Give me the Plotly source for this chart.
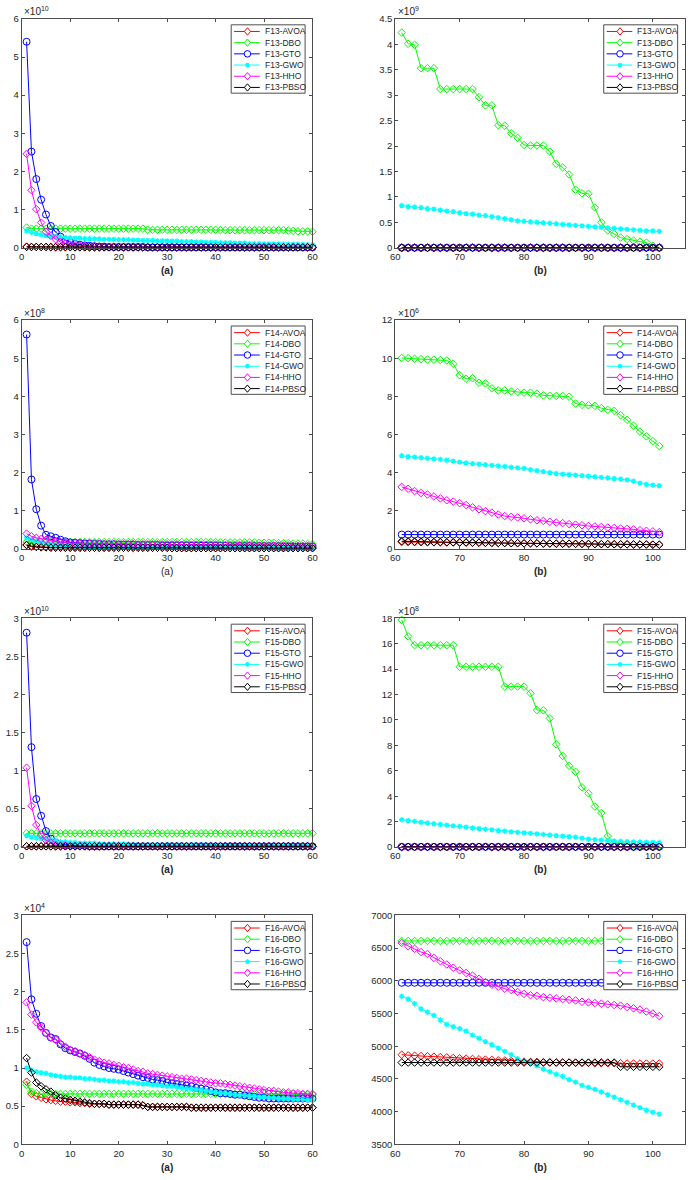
import plotly.graph_objects as go

# ---------------- data ----------------
ITER_A = list(range(1, 61))
ITER_B = list(range(61, 102))
ALGOS = ["AVOA", "DBO", "GTO", "GWO", "HHO", "PBSO"]

# F13 (a)  x1e10
f13a_avoa = [0.03,0.02,0.02,0.02,0.02,0.01,0.01,0.01,0.01,0.01,
             0.01,0.01,0.01,0.01,0.01,0.01,0.01,0.01,0.01,0.01,
             0.01,0.01,0.01,0.01,0.01,0.01,0.01,0.01,0.01,0.01,
             0.01,0.01,0.01,0.01,0.01,0.01,0.01,0.01,0.01,0.01,
             0.01,0.01,0.01,0.01,0.01,0.01,0.01,0.01,0.01,0.01,
             0.01,0.01,0.01,0.01,0.01,0.01,0.01,0.01,0.01,0.01]
f13a_dbo = [0.53,0.50,0.50,0.50,0.50,0.50,0.50,0.50,0.50,0.50,
            0.50,0.50,0.50,0.50,0.50,0.50,0.50,0.50,0.50,0.50,
            0.50,0.50,0.50,0.50,0.50,0.47,0.47,0.47,0.47,0.47,
            0.47,0.47,0.47,0.47,0.47,0.47,0.47,0.47,0.47,0.47,
            0.46,0.46,0.46,0.46,0.46,0.46,0.46,0.46,0.46,0.46,
            0.46,0.46,0.46,0.46,0.45,0.44,0.43,0.43,0.43,0.42]
f13a_gto = [5.40,2.52,1.80,1.26,0.87,0.57,0.41,0.29,0.20,0.14,
            0.10,0.08,0.06,0.05,0.04,0.03,0.03,0.02,0.02,0.02,
            0.02,0.02,0.02,0.02,0.02,0.01,0.01,0.01,0.01,0.01,
            0.01,0.01,0.01,0.01,0.01,0.01,0.01,0.01,0.01,0.01,
            0.01,0.01,0.01,0.01,0.01,0.01,0.01,0.01,0.01,0.01,
            0.01,0.01,0.01,0.01,0.01,0.01,0.01,0.01,0.01,0.01]
f13a_gwo = [0.44,0.40,0.37,0.34,0.32,0.30,0.29,0.28,0.27,0.26,
            0.25,0.25,0.24,0.24,0.23,0.23,0.22,0.22,0.22,0.21,
            0.21,0.21,0.20,0.20,0.19,0.19,0.19,0.18,0.18,0.18,
            0.17,0.17,0.16,0.16,0.16,0.15,0.15,0.14,0.14,0.14,
            0.13,0.13,0.13,0.12,0.12,0.12,0.11,0.11,0.11,0.10,
            0.10,0.10,0.10,0.09,0.09,0.09,0.09,0.08,0.08,0.08]
f13a_hho = [2.46,1.51,1.01,0.66,0.42,0.31,0.22,0.15,0.11,0.08,
            0.06,0.05,0.04,0.03,0.03,0.02,0.02,0.02,0.02,0.02,
            0.01,0.01,0.01,0.01,0.01,0.01,0.01,0.01,0.01,0.01,
            0.01,0.01,0.01,0.01,0.01,0.01,0.01,0.01,0.01,0.01,
            0.01,0.01,0.01,0.01,0.01,0.01,0.01,0.01,0.01,0.01,
            0.01,0.01,0.01,0.01,0.01,0.01,0.01,0.01,0.01,0.01]
f13a_pbso = [0.02,0.02,0.02,0.02,0.02,0.02,0.02,0.02,0.02,0.02,
             0.01,0.01,0.01,0.01,0.01,0.01,0.01,0.01,0.01,0.01,
             0.01,0.01,0.01,0.01,0.01,0.01,0.01,0.01,0.01,0.01,
             0.01,0.01,0.01,0.01,0.01,0.01,0.01,0.01,0.01,0.01,
             0.01,0.01,0.01,0.01,0.01,0.01,0.01,0.01,0.01,0.01,
             0.01,0.01,0.01,0.01,0.01,0.01,0.01,0.01,0.01,0.01]

# F13 (b)  x1e9
f13b_avoa = [0.00,0.00,0.00,0.00,0.00,0.00,0.00,0.00,0.00,0.00,
             0.00,0.00,0.00,0.00,0.00,0.00,0.00,0.00,0.00,0.00,
             0.00,0.00,0.00,0.00,0.00,0.00,0.00,0.00,0.00,0.00,
             0.00,0.00,0.00,0.00,0.00,0.00,0.00,0.00,0.00,0.00,0.00]
f13b_dbo = [4.23,4.01,3.99,3.53,3.53,3.53,3.12,3.12,3.12,3.12,
            3.12,3.12,2.96,2.80,2.80,2.41,2.40,2.25,2.16,2.02,
            2.01,2.01,2.01,1.89,1.65,1.58,1.44,1.14,1.07,1.06,
            0.79,0.50,0.34,0.27,0.20,0.17,0.14,0.12,0.10,0.04,0.01]
f13b_gto = [0.00,0.00,0.00,0.00,0.00,0.00,0.00,0.00,0.00,0.00,
            0.00,0.00,0.00,0.00,0.00,0.00,0.00,0.00,0.00,0.00,
            0.00,0.00,0.00,0.00,0.00,0.00,0.00,0.00,0.00,0.00,
            0.00,0.00,0.00,0.00,0.00,0.00,0.00,0.00,0.00,0.00,0.00]
f13b_gwo = [0.83,0.81,0.80,0.79,0.77,0.76,0.74,0.72,0.71,0.69,
            0.67,0.66,0.64,0.63,0.61,0.59,0.57,0.55,0.53,0.52,
            0.51,0.50,0.49,0.48,0.47,0.46,0.45,0.44,0.43,0.42,
            0.41,0.40,0.39,0.38,0.37,0.36,0.35,0.34,0.33,0.33,0.32]
f13b_hho = [0.00,0.00,0.00,0.00,0.00,0.00,0.00,0.00,0.00,0.00,
            0.00,0.00,0.00,0.00,0.00,0.00,0.00,0.00,0.00,0.00,
            0.00,0.00,0.00,0.00,0.00,0.00,0.00,0.00,0.00,0.00,
            0.00,0.00,0.00,0.00,0.00,0.00,0.00,0.00,0.00,0.00,0.00]
f13b_pbso = [0.00,0.00,0.00,0.00,0.00,0.00,0.00,0.00,0.00,0.00,
             0.00,0.00,0.00,0.00,0.00,0.00,0.00,0.00,0.00,0.00,
             0.00,0.00,0.00,0.00,0.00,0.00,0.00,0.00,0.00,0.00,
             0.00,0.00,0.00,0.00,0.00,0.00,0.00,0.00,0.00,0.00,0.00]

# F14 (a)  x1e8
f14a_avoa = [0.11,0.08,0.06,0.05,0.04,0.04,0.04,0.04,0.03,0.03,
             0.03,0.03,0.03,0.03,0.03,0.03,0.03,0.03,0.03,0.03,
             0.03,0.03,0.03,0.03,0.03,0.03,0.03,0.03,0.03,0.03,
             0.02,0.02,0.02,0.02,0.02,0.02,0.02,0.02,0.02,0.02,
             0.02,0.02,0.02,0.02,0.02,0.02,0.02,0.02,0.02,0.02,
             0.02,0.02,0.02,0.02,0.02,0.02,0.02,0.02,0.02,0.02]
f14a_dbo = [0.18,0.18,0.18,0.18,0.18,0.18,0.18,0.18,0.18,0.18,
            0.18,0.18,0.18,0.18,0.18,0.18,0.18,0.18,0.18,0.18,
            0.18,0.18,0.18,0.18,0.18,0.18,0.18,0.18,0.18,0.18,
            0.18,0.18,0.18,0.18,0.18,0.18,0.18,0.18,0.18,0.18,
            0.17,0.17,0.17,0.17,0.17,0.17,0.17,0.17,0.16,0.16,
            0.16,0.16,0.15,0.15,0.15,0.14,0.14,0.14,0.13,0.13]
f14a_gto = [5.62,1.82,1.04,0.61,0.37,0.33,0.29,0.24,0.20,0.17,
            0.16,0.15,0.14,0.14,0.13,0.13,0.12,0.12,0.12,0.11,
            0.11,0.11,0.11,0.10,0.10,0.10,0.10,0.10,0.09,0.09,
            0.09,0.09,0.09,0.09,0.08,0.08,0.08,0.08,0.08,0.08,
            0.08,0.08,0.07,0.07,0.07,0.07,0.07,0.07,0.07,0.07,
            0.07,0.07,0.07,0.06,0.06,0.06,0.06,0.06,0.06,0.06]
f14a_gwo = [0.29,0.24,0.20,0.17,0.14,0.12,0.10,0.09,0.08,0.08,
            0.07,0.07,0.07,0.06,0.06,0.06,0.06,0.06,0.05,0.05,
            0.05,0.05,0.05,0.05,0.05,0.05,0.04,0.04,0.04,0.04,
            0.04,0.04,0.04,0.04,0.04,0.04,0.04,0.04,0.04,0.04,
            0.04,0.03,0.03,0.03,0.03,0.03,0.03,0.03,0.03,0.03,
            0.03,0.03,0.03,0.03,0.03,0.03,0.03,0.03,0.03,0.03]
f14a_hho = [0.40,0.33,0.29,0.26,0.24,0.22,0.20,0.18,0.16,0.15,
            0.15,0.14,0.14,0.14,0.14,0.13,0.13,0.13,0.13,0.13,
            0.13,0.13,0.13,0.12,0.12,0.12,0.12,0.12,0.12,0.12,
            0.12,0.12,0.11,0.11,0.11,0.11,0.11,0.11,0.11,0.11,
            0.10,0.10,0.10,0.10,0.10,0.10,0.10,0.10,0.09,0.09,
            0.09,0.09,0.09,0.09,0.09,0.08,0.08,0.08,0.08,0.08]
f14a_pbso = [0.10,0.06,0.05,0.04,0.04,0.03,0.03,0.03,0.03,0.03,
             0.03,0.03,0.03,0.03,0.03,0.03,0.03,0.03,0.03,0.03,
             0.03,0.03,0.03,0.03,0.03,0.03,0.03,0.03,0.03,0.03,
             0.02,0.02,0.02,0.02,0.02,0.02,0.02,0.02,0.02,0.02,
             0.02,0.02,0.02,0.02,0.02,0.02,0.02,0.02,0.02,0.02,
             0.02,0.02,0.02,0.02,0.02,0.02,0.02,0.02,0.02,0.02]

# F14 (b)  x1e6
f14b_avoa = [0.36,0.36,0.35,0.35,0.34,0.34,0.34,0.33,0.33,0.33,
             0.32,0.32,0.32,0.31,0.31,0.31,0.30,0.30,0.30,0.29,
             0.29,0.29,0.28,0.28,0.28,0.27,0.27,0.27,0.26,0.26,
             0.26,0.25,0.25,0.25,0.24,0.24,0.24,0.23,0.23,0.23,0.22]
f14b_dbo = [10.01,10.00,9.97,9.95,9.93,9.92,9.90,9.88,9.71,9.11,
            8.92,8.95,8.71,8.68,8.42,8.31,8.31,8.26,8.22,8.19,
            8.19,8.14,8.05,8.03,8.02,8.02,7.98,7.62,7.55,7.53,
            7.50,7.38,7.29,7.24,7.01,6.77,6.46,6.15,5.90,5.65,5.39]
f14b_gto = [0.75,0.75,0.75,0.75,0.75,0.75,0.75,0.75,0.75,0.75,
            0.75,0.75,0.75,0.75,0.75,0.75,0.75,0.75,0.75,0.75,
            0.75,0.75,0.75,0.75,0.75,0.75,0.75,0.75,0.75,0.75,
            0.75,0.75,0.75,0.75,0.75,0.75,0.75,0.75,0.75,0.75,0.75]
f14b_gwo = [4.88,4.84,4.81,4.78,4.75,4.72,4.69,4.65,4.60,4.55,
            4.50,4.47,4.44,4.41,4.38,4.35,4.32,4.28,4.25,4.22,
            4.15,4.10,4.05,4.00,3.95,3.92,3.90,3.87,3.84,3.81,
            3.78,3.75,3.72,3.69,3.66,3.62,3.55,3.45,3.38,3.34,3.31]
f14b_hho = [3.25,3.15,3.03,2.93,2.85,2.75,2.65,2.55,2.48,2.40,
            2.30,2.18,2.08,1.98,1.90,1.80,1.72,1.68,1.65,1.60,
            1.55,1.50,1.47,1.42,1.38,1.35,1.30,1.27,1.24,1.20,
            1.18,1.15,1.12,1.10,1.07,1.05,1.02,0.98,0.95,0.92,0.88]
f14b_pbso = [0.40,0.39,0.38,0.38,0.37,0.36,0.36,0.35,0.35,0.34,
             0.34,0.33,0.33,0.32,0.32,0.31,0.31,0.30,0.30,0.29,
             0.29,0.29,0.28,0.28,0.27,0.27,0.27,0.26,0.26,0.26,
             0.25,0.25,0.25,0.24,0.24,0.24,0.23,0.23,0.23,0.22,0.22]

# F15 (a)  x1e10
f15a_avoa = [0.01,0.01,0.01,0.01,0.01,0.01,0.01,0.01,0.01,0.01,
             0.01,0.01,0.01,0.01,0.01,0.01,0.01,0.01,0.01,0.01,
             0.01,0.01,0.01,0.01,0.01,0.01,0.01,0.01,0.01,0.01,
             0.01,0.01,0.01,0.01,0.01,0.01,0.01,0.01,0.01,0.01,
             0.01,0.01,0.01,0.01,0.01,0.01,0.01,0.01,0.01,0.01,
             0.01,0.01,0.01,0.01,0.01,0.01,0.01,0.01,0.01,0.01]
f15a_dbo = [0.18,0.18,0.18,0.18,0.18,0.18,0.18,0.18,0.18,0.18,
            0.18,0.18,0.18,0.18,0.18,0.18,0.18,0.18,0.18,0.18,
            0.18,0.18,0.18,0.18,0.18,0.18,0.18,0.18,0.18,0.18,
            0.18,0.18,0.18,0.18,0.18,0.18,0.18,0.18,0.18,0.18,
            0.18,0.18,0.18,0.18,0.18,0.18,0.18,0.18,0.18,0.18,
            0.18,0.18,0.18,0.18,0.18,0.18,0.18,0.18,0.18,0.18]
f15a_gto = [2.81,1.31,0.63,0.41,0.21,0.11,0.06,0.04,0.03,0.02,
            0.02,0.02,0.02,0.01,0.01,0.01,0.01,0.01,0.01,0.01,
            0.01,0.01,0.01,0.01,0.01,0.01,0.01,0.01,0.01,0.01,
            0.01,0.01,0.01,0.01,0.01,0.01,0.01,0.01,0.01,0.01,
            0.01,0.01,0.01,0.01,0.01,0.01,0.01,0.01,0.01,0.01,
            0.01,0.01,0.01,0.01,0.01,0.01,0.01,0.01,0.01,0.01]
f15a_gwo = [0.15,0.13,0.12,0.11,0.10,0.09,0.08,0.07,0.07,0.06,
            0.06,0.05,0.05,0.05,0.05,0.04,0.04,0.04,0.04,0.04,
            0.04,0.04,0.03,0.03,0.03,0.03,0.03,0.03,0.03,0.03,
            0.03,0.03,0.03,0.03,0.03,0.03,0.03,0.03,0.03,0.02,
            0.02,0.02,0.02,0.02,0.02,0.02,0.02,0.02,0.02,0.02,
            0.02,0.02,0.02,0.02,0.02,0.02,0.02,0.02,0.02,0.02]
f15a_hho = [1.04,0.54,0.29,0.16,0.09,0.06,0.03,0.02,0.02,0.01,
            0.01,0.01,0.01,0.01,0.01,0.01,0.01,0.01,0.01,0.01,
            0.01,0.01,0.01,0.01,0.01,0.01,0.01,0.01,0.01,0.01,
            0.01,0.01,0.01,0.01,0.01,0.01,0.01,0.01,0.01,0.01,
            0.01,0.01,0.01,0.01,0.01,0.01,0.01,0.01,0.01,0.01,
            0.01,0.01,0.01,0.01,0.01,0.01,0.01,0.01,0.01,0.01]
f15a_pbso = [0.01,0.01,0.01,0.01,0.01,0.01,0.01,0.01,0.01,0.01,
             0.01,0.01,0.01,0.01,0.01,0.01,0.01,0.01,0.01,0.01,
             0.01,0.01,0.01,0.01,0.01,0.01,0.01,0.01,0.01,0.01,
             0.01,0.01,0.01,0.01,0.01,0.01,0.01,0.01,0.01,0.01,
             0.01,0.01,0.01,0.01,0.01,0.01,0.01,0.01,0.01,0.01,
             0.01,0.01,0.01,0.01,0.01,0.01,0.01,0.01,0.01,0.01]

# F15 (b)  x1e8
f15b_avoa = [0.02,0.02,0.02,0.02,0.02,0.02,0.02,0.02,0.02,0.02,
             0.02,0.02,0.02,0.02,0.02,0.02,0.02,0.02,0.02,0.02,
             0.02,0.02,0.02,0.02,0.02,0.02,0.02,0.02,0.02,0.02,
             0.02,0.02,0.02,0.02,0.02,0.02,0.02,0.02,0.02,0.02,0.02]
f15b_dbo = [17.87,16.57,15.88,15.88,15.88,15.88,15.88,15.88,15.88,14.18,
            14.18,14.18,14.18,14.18,14.18,14.18,12.62,12.62,12.62,12.62,
            12.10,10.78,10.76,10.13,8.08,7.17,6.39,5.92,4.70,4.23,
            3.19,2.68,0.86,0.34,0.26,0.22,0.15,0.12,0.10,0.10,0.10]
f15b_gto = [0.02,0.02,0.02,0.02,0.02,0.02,0.02,0.02,0.02,0.02,
            0.02,0.02,0.02,0.02,0.02,0.02,0.02,0.02,0.02,0.02,
            0.02,0.02,0.02,0.02,0.02,0.02,0.02,0.02,0.02,0.02,
            0.02,0.02,0.02,0.02,0.02,0.02,0.02,0.02,0.02,0.02,0.02]
f15b_gwo = [2.15,2.08,2.02,1.95,1.89,1.83,1.78,1.72,1.67,1.62,
            1.56,1.50,1.45,1.40,1.35,1.30,1.25,1.20,1.16,1.12,
            1.08,1.03,0.99,0.95,0.90,0.86,0.82,0.78,0.70,0.62,
            0.58,0.54,0.50,0.47,0.45,0.43,0.41,0.40,0.38,0.37,0.36]
f15b_hho = [0.02,0.02,0.02,0.02,0.02,0.02,0.02,0.02,0.02,0.02,
            0.02,0.02,0.02,0.02,0.02,0.02,0.02,0.02,0.02,0.02,
            0.02,0.02,0.02,0.02,0.02,0.02,0.02,0.02,0.02,0.02,
            0.02,0.02,0.02,0.02,0.02,0.02,0.02,0.02,0.02,0.02,0.02]
f15b_pbso = [0.02,0.02,0.02,0.02,0.02,0.02,0.02,0.02,0.02,0.02,
             0.02,0.02,0.02,0.02,0.02,0.02,0.02,0.02,0.02,0.02,
             0.02,0.02,0.02,0.02,0.02,0.02,0.02,0.02,0.02,0.02,
             0.02,0.02,0.02,0.02,0.02,0.02,0.02,0.02,0.02,0.02,0.02]

# F16 (a)  x1e4
f16a_avoa = [0.82,0.66,0.63,0.61,0.59,0.58,0.57,0.56,0.56,0.55,
             0.55,0.54,0.54,0.53,0.53,0.53,0.53,0.52,0.52,0.52,
             0.52,0.52,0.52,0.52,0.51,0.49,0.49,0.49,0.49,0.49,
             0.49,0.49,0.49,0.49,0.48,0.48,0.48,0.48,0.48,0.48,
             0.48,0.48,0.48,0.48,0.48,0.48,0.48,0.48,0.48,0.48,
             0.48,0.48,0.48,0.48,0.48,0.48,0.48,0.48,0.48,0.48]
f16a_dbo = [0.78,0.69,0.67,0.66,0.66,0.66,0.66,0.66,0.66,0.66,
            0.66,0.66,0.66,0.66,0.66,0.66,0.66,0.66,0.66,0.66,
            0.66,0.66,0.66,0.66,0.66,0.66,0.66,0.66,0.66,0.66,
            0.66,0.66,0.66,0.66,0.66,0.66,0.66,0.66,0.66,0.66,
            0.66,0.66,0.66,0.66,0.66,0.66,0.66,0.66,0.66,0.66,
            0.66,0.66,0.66,0.66,0.66,0.66,0.65,0.65,0.65,0.65]
f16a_gto = [2.65,1.90,1.71,1.55,1.46,1.40,1.38,1.31,1.26,1.23,
            1.21,1.19,1.16,1.12,1.07,1.04,1.02,1.00,0.99,0.98,
            0.96,0.94,0.92,0.90,0.88,0.87,0.85,0.84,0.83,0.81,
            0.80,0.79,0.78,0.77,0.76,0.74,0.73,0.72,0.70,0.68,
            0.67,0.67,0.66,0.65,0.65,0.64,0.63,0.62,0.61,0.61,
            0.60,0.60,0.60,0.60,0.60,0.60,0.60,0.60,0.60,0.60]
f16a_gwo = [1.00,0.97,0.95,0.94,0.93,0.91,0.90,0.89,0.88,0.88,
            0.87,0.87,0.86,0.86,0.85,0.84,0.84,0.83,0.83,0.82,
            0.82,0.81,0.81,0.80,0.79,0.79,0.78,0.78,0.77,0.76,
            0.76,0.75,0.74,0.73,0.73,0.72,0.71,0.70,0.69,0.68,
            0.67,0.67,0.66,0.65,0.64,0.64,0.63,0.63,0.62,0.62,
            0.61,0.61,0.60,0.60,0.60,0.59,0.59,0.59,0.58,0.58]
f16a_hho = [1.86,1.70,1.60,1.53,1.46,1.40,1.37,1.32,1.28,1.24,
            1.22,1.19,1.17,1.14,1.11,1.09,1.07,1.06,1.04,1.03,
            1.01,1.00,0.98,0.96,0.95,0.93,0.92,0.91,0.90,0.89,
            0.88,0.87,0.86,0.86,0.85,0.84,0.83,0.82,0.81,0.80,
            0.80,0.79,0.78,0.77,0.76,0.75,0.74,0.73,0.72,0.71,
            0.70,0.70,0.69,0.68,0.68,0.67,0.67,0.66,0.66,0.66]
f16a_pbso = [1.13,0.94,0.81,0.76,0.72,0.69,0.64,0.61,0.60,0.58,
             0.57,0.56,0.55,0.54,0.53,0.53,0.53,0.52,0.52,0.52,
             0.52,0.52,0.52,0.52,0.51,0.49,0.49,0.49,0.49,0.49,
             0.49,0.49,0.49,0.49,0.48,0.48,0.48,0.48,0.48,0.48,
             0.48,0.48,0.48,0.48,0.48,0.48,0.48,0.48,0.48,0.48,
             0.48,0.48,0.48,0.48,0.48,0.48,0.48,0.48,0.48,0.48]

# F16 (b)  raw values
f16b_avoa = [4870,4860,4855,4850,4845,4840,4835,4830,4820,4815,
             4810,4805,4800,4795,4790,4785,4780,4775,4770,4765,
             4760,4760,4755,4755,4750,4750,4750,4745,4745,4745,
             4740,4740,4740,4740,4740,4735,4735,4735,4735,4735,4735]
f16b_dbo = [6610,6610,6610,6610,6610,6610,6610,6610,6610,6610,
            6610,6610,6610,6610,6610,6610,6610,6610,6610,6610,
            6610,6610,6610,6610,6610,6610,6610,6610,6610,6610,
            6610,6610,6610,6610,6610,6610,6610,6610,6610,6610,6610]
f16b_gto = [5970,5970,5970,5970,5970,5970,5970,5970,5970,5970,
            5970,5970,5970,5970,5970,5970,5970,5970,5970,5970,
            5970,5970,5970,5970,5970,5970,5970,5970,5970,5970,
            5970,5970,5970,5970,5970,5970,5970,5970,5970,5970,5970]
f16b_gwo = [5763,5722,5650,5570,5520,5470,5400,5333,5300,5268,
            5230,5170,5120,5070,5025,4970,4920,4870,4810,4770,
            4740,4700,4650,4610,4570,4540,4490,4450,4400,4370,
            4340,4300,4260,4220,4180,4140,4100,4060,4020,3990,3960]
f16b_hho = [6580,6530,6490,6440,6410,6350,6300,6250,6200,6160,
            6120,6080,6030,5980,5940,5910,5880,5860,5830,5800,
            5780,5770,5750,5740,5730,5720,5710,5700,5680,5670,
            5660,5650,5640,5630,5620,5600,5580,5560,5530,5500,5460]
f16b_pbso = [4750,4750,4750,4750,4750,4750,4750,4750,4750,4750,
             4750,4750,4750,4750,4750,4750,4750,4750,4750,4750,
             4750,4750,4750,4750,4750,4750,4750,4750,4750,4750,
             4750,4750,4750,4750,4685,4685,4685,4685,4685,4685,4685]

# ---------------- styling ----------------
COLORS = ["#FF0000", "#00FF00", "#0000FF", "#00FFFF", "#FF00FF", "#000000"]
SYMBOLS = ["diamond-open", "diamond-open", "circle-open", "asterisk-open", "diamond-open", "diamond-open"]
SIZES = [5.8, 5.8, 7, 4.5, 5.8, 5.8]
FONT = "Liberation Sans, Arial, sans-serif"
AXC = "#4d4d4d"
TXC = "#262626"

W, H = 692, 1180
def px(x):
    return x / W
def py(y):
    return 1 - y / H

COLS = [(17, 312), (396, 690)]
ROWS = [(13, 244), (317, 548), (618, 849), (918, 1149)]

PANELS = [
    dict(fn="F13", series=[f13a_avoa, f13a_dbo, f13a_gto, f13a_gwo, f13a_hho, f13a_pbso], yr=[0, 6], dt=1, exp="10", lab="(a)", bold=True),
    dict(fn="F13", series=[f13b_avoa, f13b_dbo, f13b_gto, f13b_gwo, f13b_hho, f13b_pbso], yr=[0, 4.5], dt=0.5, exp="9", lab="(b)", bold=True),
    dict(fn="F14", series=[f14a_avoa, f14a_dbo, f14a_gto, f14a_gwo, f14a_hho, f14a_pbso], yr=[0, 6], dt=1, exp="8", lab="(a)", bold=False),
    dict(fn="F14", series=[f14b_avoa, f14b_dbo, f14b_gto, f14b_gwo, f14b_hho, f14b_pbso], yr=[0, 12], dt=2, exp="6", lab="(b)", bold=True),
    dict(fn="F15", series=[f15a_avoa, f15a_dbo, f15a_gto, f15a_gwo, f15a_hho, f15a_pbso], yr=[0, 3], dt=0.5, exp="10", lab="(a)", bold=True),
    dict(fn="F15", series=[f15b_avoa, f15b_dbo, f15b_gto, f15b_gwo, f15b_hho, f15b_pbso], yr=[0, 18], dt=2, exp="8", lab="(b)", bold=True),
    dict(fn="F16", series=[f16a_avoa, f16a_dbo, f16a_gto, f16a_gwo, f16a_hho, f16a_pbso], yr=[0, 3], dt=0.5, exp="4", lab="(a)", bold=True),
    dict(fn="F16", series=[f16b_avoa, f16b_dbo, f16b_gto, f16b_gwo, f16b_hho, f16b_pbso], yr=[3500, 7000], dt=500, exp=None, lab="(b)", bold=True),
]

fig = go.Figure()
layout = dict(width=W, height=H, margin=dict(l=0, r=0, t=0, b=0),
              paper_bgcolor="white", plot_bgcolor="white", showlegend=False,
              font=dict(family=FONT, size=9.5, color=TXC))
annotations = []
shapes = []

for k, p in enumerate(PANELS):
    r, c = k // 2, k % 2
    x0, x1 = COLS[c]
    y0, y1 = ROWS[r]
    ax = k + 1
    xs = ITER_A if c == 0 else ITER_B
    for j, algo in enumerate(ALGOS):
        fig.add_trace(go.Scatter(
            x=xs, y=p["series"][j], mode="lines+markers", name=f"{p['fn']}-{algo}",
            xaxis=f"x{ax}", yaxis=f"y{ax}", cliponaxis=False,
            line=dict(color=COLORS[j], width=1),
            marker=dict(symbol=SYMBOLS[j], size=SIZES[j], color=COLORS[j],
                        line=dict(color=COLORS[j], width=1.3 if algo == "GWO" else 1))))
    common = dict(showline=True, linecolor=AXC, linewidth=1, mirror="allticks",
                  ticks="inside", ticklen=3, tickcolor=AXC, tickwidth=1,
                  showgrid=False, zeroline=False, tickfont=dict(family=FONT, size=9.5, color=TXC))
    layout[f"xaxis{ax}"] = dict(common, domain=[px(x0), px(x1)], anchor=f"y{ax}",
                                range=[0, 60] if c == 0 else [60, 105], dtick=10, tick0=0)
    layout[f"yaxis{ax}"] = dict(common, domain=[py(y1), py(y0)], anchor=f"x{ax}",
                                range=p["yr"], dtick=p["dt"], tick0=p["yr"][0])
    # exponent label
    if p["exp"]:
        annotations.append(dict(x=px(x0 + 0.5), y=py(y0 + 0.5), xref="paper", yref="paper",
                                xanchor="left", yanchor="bottom", showarrow=False,
                                text=f"\u00d710<sup>{p['exp']}</sup>",
                                font=dict(family=FONT, size=10, color=TXC)))
    # subplot label
    lab = f"<b>{p['lab']}</b>" if p["bold"] else p["lab"]
    annotations.append(dict(x=px((x0 + x1) / 2), y=py(y1 + 23), xref="paper", yref="paper",
                            xanchor="center", yanchor="middle", showarrow=False, text=lab,
                            font=dict(family=FONT, size=10, color=TXC)))
    # custom legend box
    lr = x1 - 7.5
    ll = lr - 75
    lt = y0 + 6
    lb = lt + 69
    shapes.append(dict(type="rect", xref="paper", yref="paper", x0=px(ll), x1=px(lr),
                       y0=py(lb), y1=py(lt), fillcolor="white",
                       line=dict(color=AXC, width=1), layer="above"))
    for j, algo in enumerate(ALGOS):
        cy = lt + 6.7 + j * 11.3
        col = COLORS[j]
        shapes.append(dict(type="line", xref="paper", yref="paper",
                           x0=px(ll + 3), x1=px(ll + 29), y0=py(cy), y1=py(cy),
                           line=dict(color=col, width=1), layer="above"))
        mx = ll + 16.5
        if SYMBOLS[j] == "circle-open":
            shapes.append(dict(type="circle", xref="paper", yref="paper",
                               x0=px(mx - 3.3), x1=px(mx + 3.3), y0=py(cy + 3.3), y1=py(cy - 3.3),
                               fillcolor="white", line=dict(color=col, width=1), layer="above"))
        elif SYMBOLS[j] == "asterisk-open":
            d = 2.4
            e = 1.7
            path = (f"M{px(mx-d)},{py(cy)} L{px(mx+d)},{py(cy)} "
                    f"M{px(mx)},{py(cy-d)} L{px(mx)},{py(cy+d)} "
                    f"M{px(mx-e)},{py(cy-e)} L{px(mx+e)},{py(cy+e)} "
                    f"M{px(mx-e)},{py(cy+e)} L{px(mx+e)},{py(cy-e)}")
            shapes.append(dict(type="path", xref="paper", yref="paper", path=path,
                               line=dict(color=col, width=1.3), layer="above"))
        else:
            hw, hh = 3.1, 3.7
            path = (f"M{px(mx)},{py(cy-hh)} L{px(mx+hw)},{py(cy)} "
                    f"L{px(mx)},{py(cy+hh)} L{px(mx-hw)},{py(cy)} Z")
            shapes.append(dict(type="path", xref="paper", yref="paper", path=path,
                               fillcolor="white", line=dict(color=col, width=1), layer="above"))
        annotations.append(dict(x=px(ll + 32), y=py(cy), xref="paper", yref="paper",
                                xanchor="left", yanchor="middle", showarrow=False,
                                text=f"{p['fn']}-{algo}",
                                font=dict(family=FONT, size=8.5, color=TXC)))

layout["annotations"] = annotations
layout["shapes"] = shapes
fig.update_layout(**layout)

fig.write_html("out.html", config={"displayModeBar": False},
               post_script="document.body.style.margin='0';")
